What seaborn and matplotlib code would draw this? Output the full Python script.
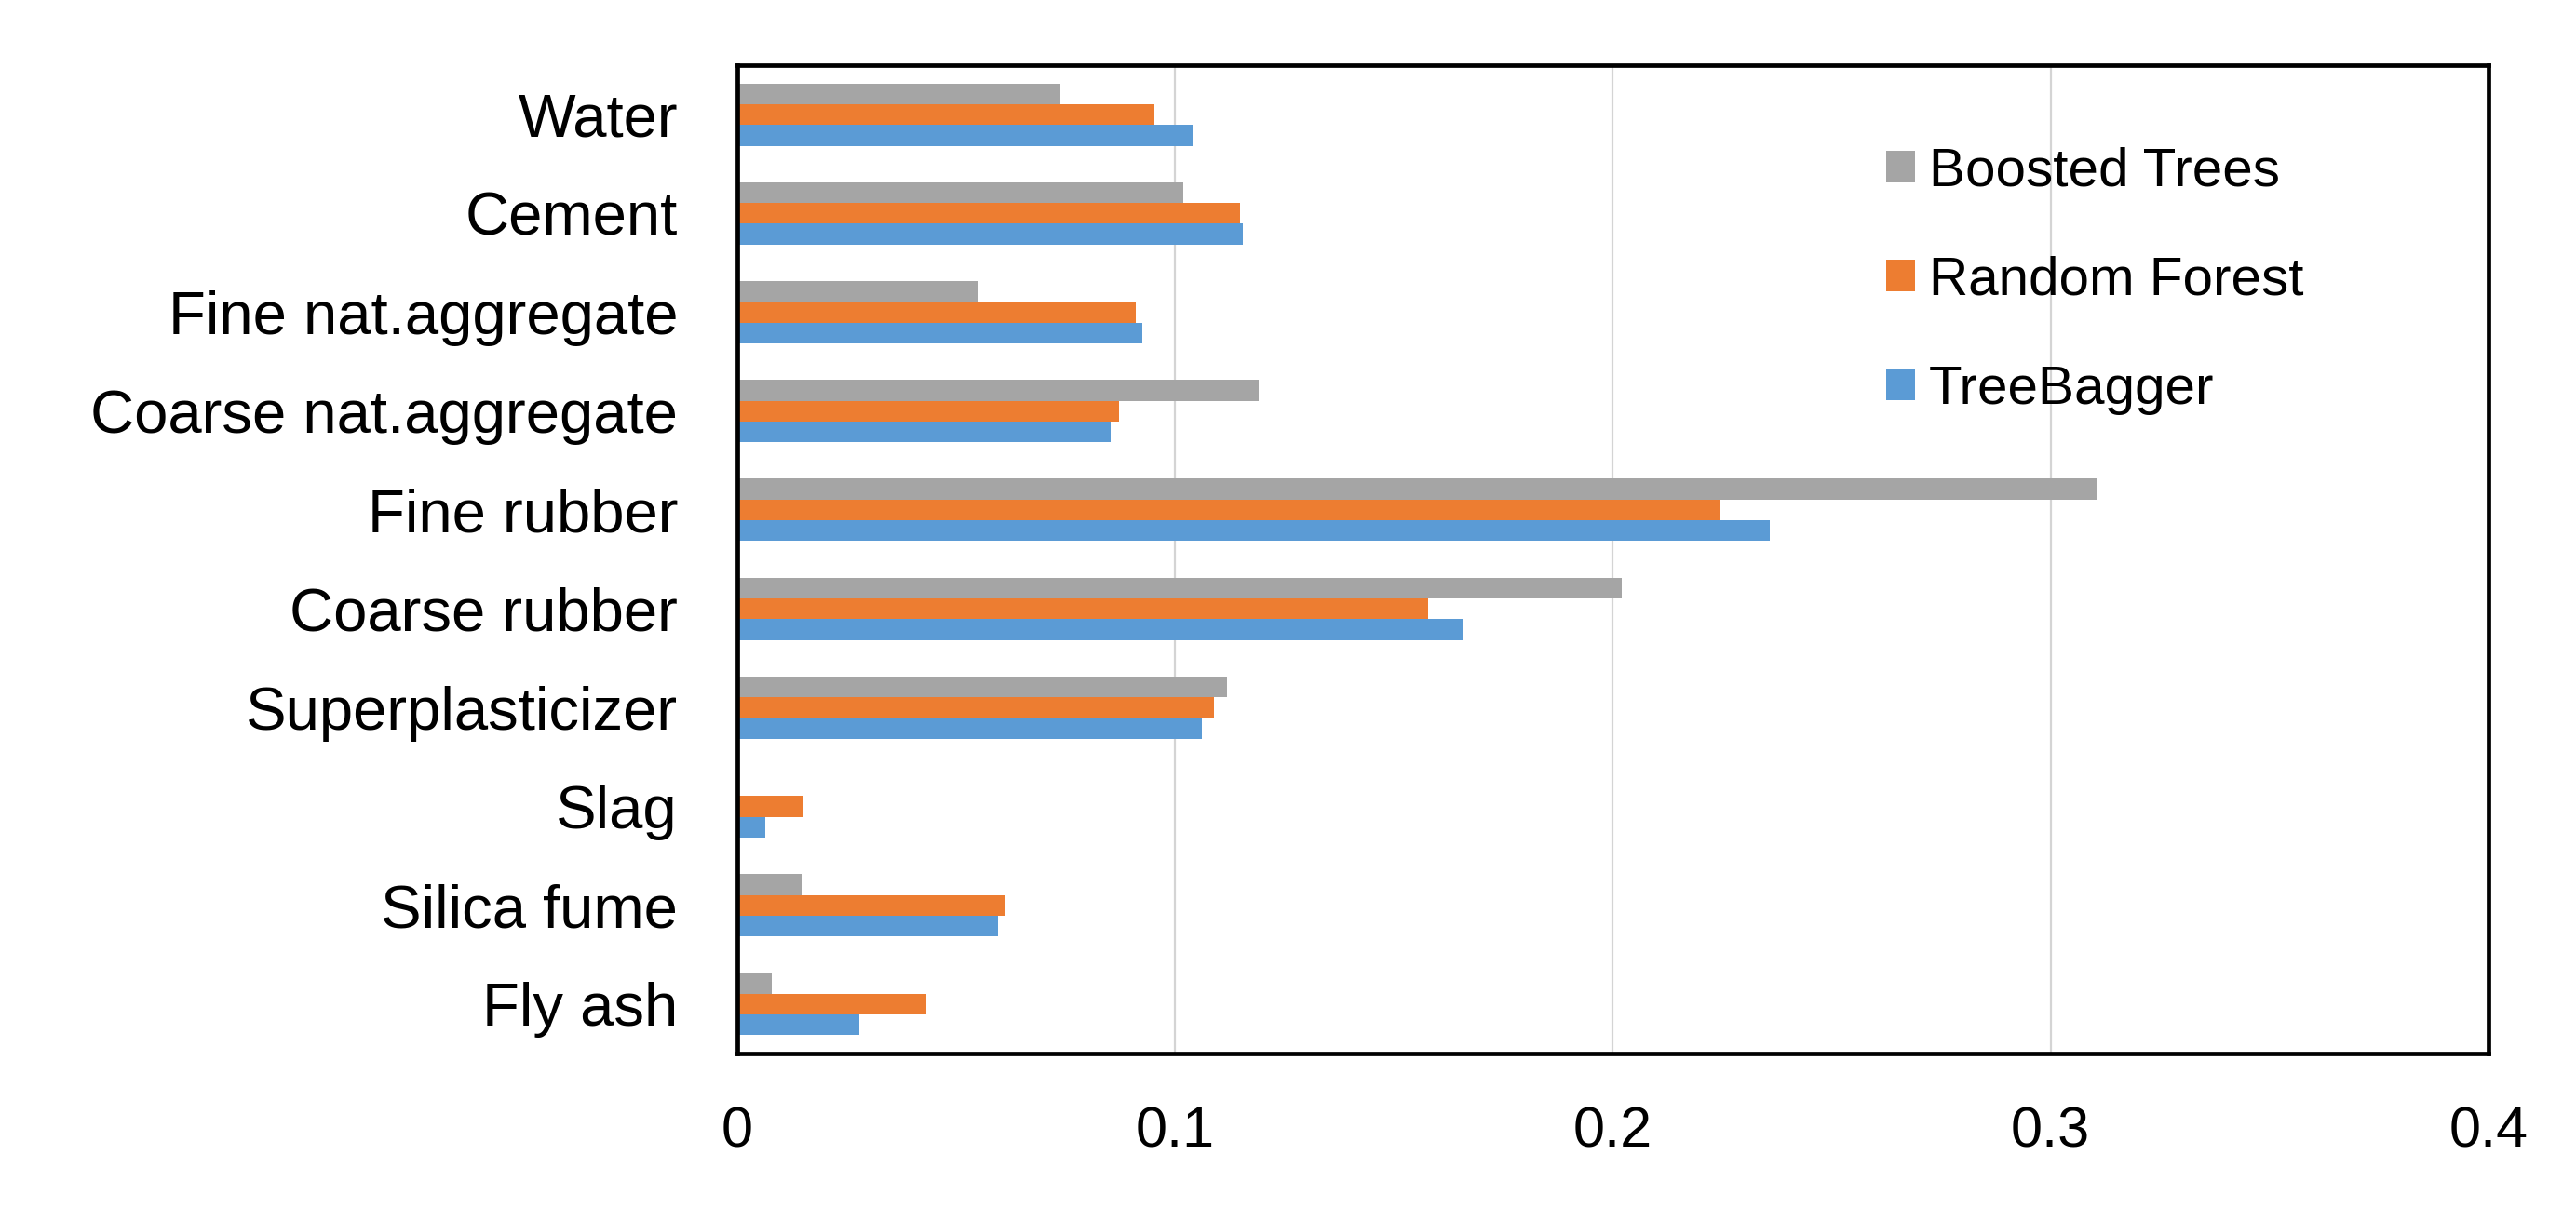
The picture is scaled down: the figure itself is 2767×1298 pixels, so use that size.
import matplotlib
matplotlib.use("Agg")
import matplotlib.pyplot as plt
import seaborn as sns
import pandas as pd

# ---- data ----
features = ["Water", "Cement", "Fine nat.aggregate", "Coarse nat.aggregate",
            "Fine rubber", "Coarse rubber", "Superplasticizer", "Slag",
            "Silica fume", "Fly ash"]
boosted_trees = [0.0739, 0.1018, 0.0551, 0.1191, 0.3106, 0.2020, 0.1118, 0.0, 0.0150, 0.0078]
random_forest = [0.0953, 0.1149, 0.0911, 0.0873, 0.2244, 0.1578, 0.1090, 0.0152, 0.0610, 0.0431]
tree_bagger = [0.1041, 0.1154, 0.0925, 0.0853, 0.2358, 0.1658, 0.1061, 0.0064, 0.0596, 0.0279]
models = ["Boosted Trees", "Random Forest", "TreeBagger"]
colors = ["#A5A5A5", "#ED7D31", "#5B9BD5"]
xticks = [0, 0.1, 0.2, 0.3, 0.4]
xticklabels = ["0", "0.1", "0.2", "0.3", "0.4"]

rows = []
for m, vals in zip(models, [boosted_trees, random_forest, tree_bagger]):
    for f, v in zip(features, vals):
        rows.append({"feature": f, "model": m, "value": v})
df = pd.DataFrame(rows)

sns.set_style("white")
plt.rcParams["font.family"] = ["Liberation Sans", "DejaVu Sans"]
plt.rcParams["text.color"] = "black"

fig = plt.figure(figsize=(27.67, 12.98), dpi=100)
ax = fig.add_axes([0.2862, 0.1279, 0.9660 - 0.2862, 0.9461 - 0.1279])

sns.barplot(data=df, x="value", y="feature", hue="model", order=features,
            hue_order=models, palette=colors, width=0.63, orient="h",
            saturation=1, ax=ax, linewidth=0)

ax.set_xlim(0, 0.4)
ax.set_xticks(xticks)
ax.set_xticklabels(xticklabels)
ax.set_xlabel("")
ax.set_ylabel("")
ax.xaxis.grid(True, color="#D4D4D4", linewidth=1.6)
ax.yaxis.grid(False)
ax.set_axisbelow(True)
for s in ax.spines.values():
    s.set_visible(True)
    s.set_color("black")
    s.set_linewidth(3.4)
ax.tick_params(axis="x", length=0, labelsize=44, colors="black", pad=41)
ax.tick_params(axis="y", length=0, labelsize=47, colors="black", pad=46)

handles, labels = ax.get_legend_handles_labels()
if ax.get_legend() is not None:
    ax.get_legend().remove()
leg = fig.legend(handles, labels, loc="center left", bbox_to_anchor=(0.7322, 0.7674),
                 frameon=False, fontsize=42, handlelength=0.53, handleheight=0.53,
                 handletextpad=0.26, labelspacing=1.08, borderpad=0, borderaxespad=0)
for t in leg.get_texts():
    t.set_color("black")

fig.savefig("out.png", dpi=100, facecolor="white")
